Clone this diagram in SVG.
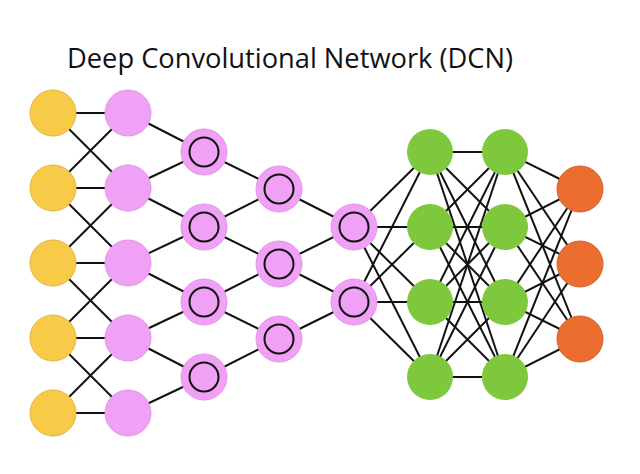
<svg xmlns="http://www.w3.org/2000/svg" width="640" height="474" viewBox="0 0 640 474">
<style>
.e{stroke:#111;stroke-width:2;fill:none}
.y{fill:#F7CA47;stroke:#E2B43C;stroke-width:1}
.p{fill:#F0A1F6;stroke:#E294EA;stroke-width:1}
.g{fill:#7EC83D}
.o{fill:#EC6E2F;stroke:#D2612A;stroke-width:1}
.r{fill:none;stroke:#111;stroke-width:2}
.t{font-family:"Open Sans","Noto Sans","DejaVu Sans",sans-serif;font-size:27px;fill:#111}
</style>
<rect width="640" height="474" fill="#fff"/>
<text class="t" x="67" y="68" textLength="446" lengthAdjust="spacingAndGlyphs">Deep Convolutional Network (DCN)</text>
<g id="connectors" class="e">
<!-- input -> layer1 -->
<line x1="53" y1="113" x2="128" y2="113"/><line x1="53" y1="113" x2="128" y2="188"/>
<line x1="53" y1="188" x2="128" y2="113"/><line x1="53" y1="188" x2="128" y2="188"/><line x1="53" y1="188" x2="128" y2="263"/>
<line x1="53" y1="263" x2="128" y2="188"/><line x1="53" y1="263" x2="128" y2="263"/><line x1="53" y1="263" x2="128" y2="338"/>
<line x1="53" y1="338" x2="128" y2="263"/><line x1="53" y1="338" x2="128" y2="338"/><line x1="53" y1="338" x2="128" y2="413"/>
<line x1="53" y1="413" x2="128" y2="338"/><line x1="53" y1="413" x2="128" y2="413"/>
<!-- layer1 -> conv1 -->
<line x1="128" y1="113" x2="204" y2="152"/>
<line x1="128" y1="188" x2="204" y2="152"/><line x1="128" y1="188" x2="204" y2="227"/>
<line x1="128" y1="263" x2="204" y2="227"/><line x1="128" y1="263" x2="204" y2="302"/>
<line x1="128" y1="338" x2="204" y2="302"/><line x1="128" y1="338" x2="204" y2="377"/>
<line x1="128" y1="413" x2="204" y2="377"/>
<!-- conv1 -> conv2 -->
<line x1="204" y1="152" x2="279" y2="189"/>
<line x1="204" y1="227" x2="279" y2="189"/><line x1="204" y1="227" x2="279" y2="264"/>
<line x1="204" y1="302" x2="279" y2="264"/><line x1="204" y1="302" x2="279" y2="339"/>
<line x1="204" y1="377" x2="279" y2="339"/>
<!-- conv2 -> conv3 -->
<line x1="279" y1="189" x2="354" y2="227"/>
<line x1="279" y1="264" x2="354" y2="227"/><line x1="279" y1="264" x2="354" y2="302"/>
<line x1="279" y1="339" x2="354" y2="302"/>
<!-- conv3 -> fc1 -->
<line x1="354" y1="227" x2="430" y2="152"/><line x1="354" y1="227" x2="430" y2="227"/><line x1="354" y1="227" x2="430" y2="302"/><line x1="354" y1="227" x2="430" y2="377"/>
<line x1="354" y1="302" x2="430" y2="152"/><line x1="354" y1="302" x2="430" y2="227"/><line x1="354" y1="302" x2="430" y2="302"/><line x1="354" y1="302" x2="430" y2="377"/>
<!-- fc1 -> fc2 -->
<line x1="430" y1="152" x2="505" y2="152"/><line x1="430" y1="152" x2="505" y2="227"/><line x1="430" y1="152" x2="505" y2="302"/><line x1="430" y1="152" x2="505" y2="377"/>
<line x1="430" y1="227" x2="505" y2="152"/><line x1="430" y1="227" x2="505" y2="227"/><line x1="430" y1="227" x2="505" y2="302"/><line x1="430" y1="227" x2="505" y2="377"/>
<line x1="430" y1="302" x2="505" y2="152"/><line x1="430" y1="302" x2="505" y2="227"/><line x1="430" y1="302" x2="505" y2="302"/><line x1="430" y1="302" x2="505" y2="377"/>
<line x1="430" y1="377" x2="505" y2="152"/><line x1="430" y1="377" x2="505" y2="227"/><line x1="430" y1="377" x2="505" y2="302"/><line x1="430" y1="377" x2="505" y2="377"/>
<!-- fc2 -> output -->
<line x1="505" y1="152" x2="580" y2="189"/><line x1="505" y1="152" x2="580" y2="264"/><line x1="505" y1="152" x2="580" y2="339"/>
<line x1="505" y1="227" x2="580" y2="189"/><line x1="505" y1="227" x2="580" y2="264"/><line x1="505" y1="227" x2="580" y2="339"/>
<line x1="505" y1="302" x2="580" y2="189"/><line x1="505" y1="302" x2="580" y2="264"/><line x1="505" y1="302" x2="580" y2="339"/>
<line x1="505" y1="377" x2="580" y2="189"/><line x1="505" y1="377" x2="580" y2="264"/><line x1="505" y1="377" x2="580" y2="339"/>
</g>
<g id="in1"><circle class="y" cx="53" cy="113" r="23"/></g>
<g id="in2"><circle class="y" cx="53" cy="188" r="23"/></g>
<g id="in3"><circle class="y" cx="53" cy="263" r="23"/></g>
<g id="in4"><circle class="y" cx="53" cy="338" r="23"/></g>
<g id="in5"><circle class="y" cx="53" cy="413" r="23"/></g>
<g id="k1"><circle class="p" cx="128" cy="113" r="23"/></g>
<g id="k2"><circle class="p" cx="128" cy="188" r="23"/></g>
<g id="k3"><circle class="p" cx="128" cy="263" r="23"/></g>
<g id="k4"><circle class="p" cx="128" cy="338" r="23"/></g>
<g id="k5"><circle class="p" cx="128" cy="413" r="23"/></g>
<g id="c1a"><circle class="p" cx="204" cy="152" r="23"/><circle class="r" cx="204" cy="152" r="14.5"/></g>
<g id="c1b"><circle class="p" cx="204" cy="227" r="23"/><circle class="r" cx="204" cy="227" r="14.5"/></g>
<g id="c1c"><circle class="p" cx="204" cy="302" r="23"/><circle class="r" cx="204" cy="302" r="14.5"/></g>
<g id="c1d"><circle class="p" cx="204" cy="377" r="23"/><circle class="r" cx="204" cy="377" r="14.5"/></g>
<g id="c2a"><circle class="p" cx="279" cy="189" r="23"/><circle class="r" cx="279" cy="189" r="14.5"/></g>
<g id="c2b"><circle class="p" cx="279" cy="264" r="23"/><circle class="r" cx="279" cy="264" r="14.5"/></g>
<g id="c2c"><circle class="p" cx="279" cy="339" r="23"/><circle class="r" cx="279" cy="339" r="14.5"/></g>
<g id="c3a"><circle class="p" cx="354" cy="227" r="23"/><circle class="r" cx="354" cy="227" r="14.5"/></g>
<g id="c3b"><circle class="p" cx="354" cy="302" r="23"/><circle class="r" cx="354" cy="302" r="14.5"/></g>
<g id="f1a"><circle class="g" cx="430" cy="152" r="23"/></g>
<g id="f1b"><circle class="g" cx="430" cy="227" r="23"/></g>
<g id="f1c"><circle class="g" cx="430" cy="302" r="23"/></g>
<g id="f1d"><circle class="g" cx="430" cy="377" r="23"/></g>
<g id="f2a"><circle class="g" cx="505" cy="152" r="23"/></g>
<g id="f2b"><circle class="g" cx="505" cy="227" r="23"/></g>
<g id="f2c"><circle class="g" cx="505" cy="302" r="23"/></g>
<g id="f2d"><circle class="g" cx="505" cy="377" r="23"/></g>
<g id="out1"><circle class="o" cx="580" cy="189" r="23"/></g>
<g id="out2"><circle class="o" cx="580" cy="264" r="23"/></g>
<g id="out3"><circle class="o" cx="580" cy="339" r="23"/></g>
</svg>
